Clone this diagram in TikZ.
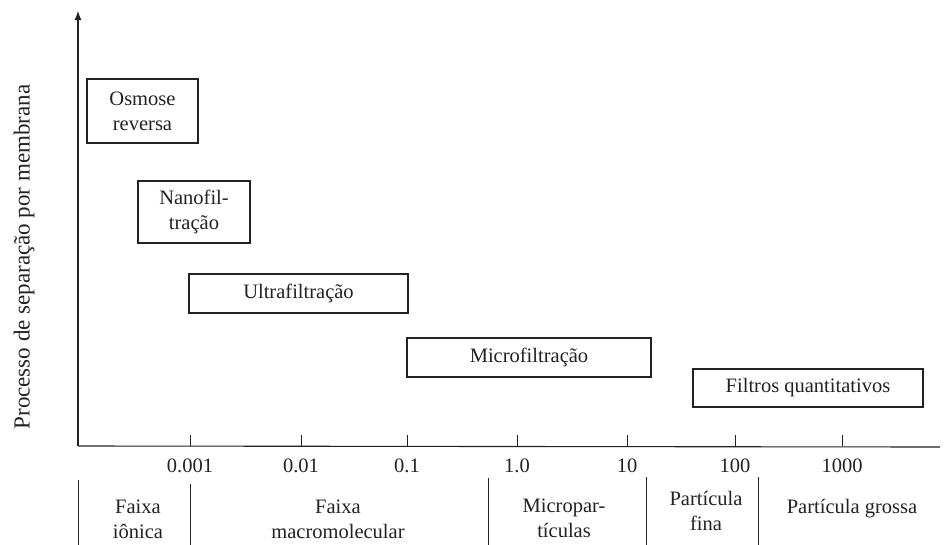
\documentclass[tikz,border=0pt]{standalone}
\usepackage{fontspec}
\setmainfont{Liberation Serif}
\usetikzlibrary{arrows.meta}
\definecolor{ink}{HTML}{222222}
\tikzset{
  procbox/.style={draw=ink, line width=1.1pt, rectangle, inner sep=0pt, align=center,
    text=ink, font=\fontsize{20.5}{25}\selectfont},
  ticklabel/.style={text=ink, font=\fontsize{20.5}{25}\selectfont},
  bandlabel/.style={text=ink, align=center, font=\fontsize{20.5}{25}\selectfont},
  axisline/.style={draw=ink, line width=1.1pt},
  sepline/.style={draw=ink, line width=1pt},
}
\begin{document}
\begin{tikzpicture}[x=1pt, y=-1pt]
\useasboundingbox (0,0) rectangle (945,544);

% axes
\coordinate (origin) at (78,446);
\coordinate (ytop) at (78,11);
\coordinate (xend) at (940,447);
\draw[axisline, -{Latex[length=9pt, width=7pt]}] (origin) -- (ytop);
\draw[axisline] (origin) -- (xend);

% vertical axis title
\node[rotate=90, text=ink, font=\fontsize{23}{27}\selectfont] (ytitle) at (24,257) {Processo de separação por membrana};

% ticks and tick labels
\foreach \name/\xx/\lab in {t1/190/0.001, t2/301/0.01, t3/407/0.1, t4/517/1.0, t5/627/10, t6/735/100, t7/842/1000} {
  \coordinate (\name top) at (\xx,435);
  \coordinate (\name bot) at (\xx,446);
  \draw[sepline] (\name top) -- (\name bot);
  \node[ticklabel] (\name lab) at (\xx,466) {\lab};
}

% process boxes
\node[procbox, minimum width=111pt, minimum height=64pt] (osmose) at (142.5,111) {Osmose\\reversa};
\node[procbox, minimum width=112pt, minimum height=62pt] (nano) at (194,212) {Nanofil-\\tração};
\node[procbox, minimum width=219pt, minimum height=39pt] (ultra) at (298.5,293.5) {Ultrafiltração};
\node[procbox, minimum width=244pt, minimum height=39pt] (micro) at (529,357.5) {Microfiltração};
\node[procbox, minimum width=230pt, minimum height=38pt] (filtros) at (808,388) {Filtros quantitativos};

% size ranges below the axis
\foreach \name/\xx/\yy in {s1/78/480, s2/190/484, s3/488/478, s4/646/477, s5/758/477} {
  \coordinate (\name a) at (\xx,\yy);
  \coordinate (\name b) at (\xx,545);
  \draw[sepline] (\name a) -- (\name b);
}
\node[bandlabel] (ionica) at (138,519) {Faixa\\iônica};
\node[bandlabel] (macro) at (338,519) {Faixa\\macromolecular};
\node[bandlabel] (micropart) at (564,518) {Micropar-\\tículas};
\node[bandlabel] (fina) at (706,511) {Partícula\\fina};
\node[bandlabel] (grossa) at (852,509) {Partícula grossa};
\end{tikzpicture}
\end{document}
